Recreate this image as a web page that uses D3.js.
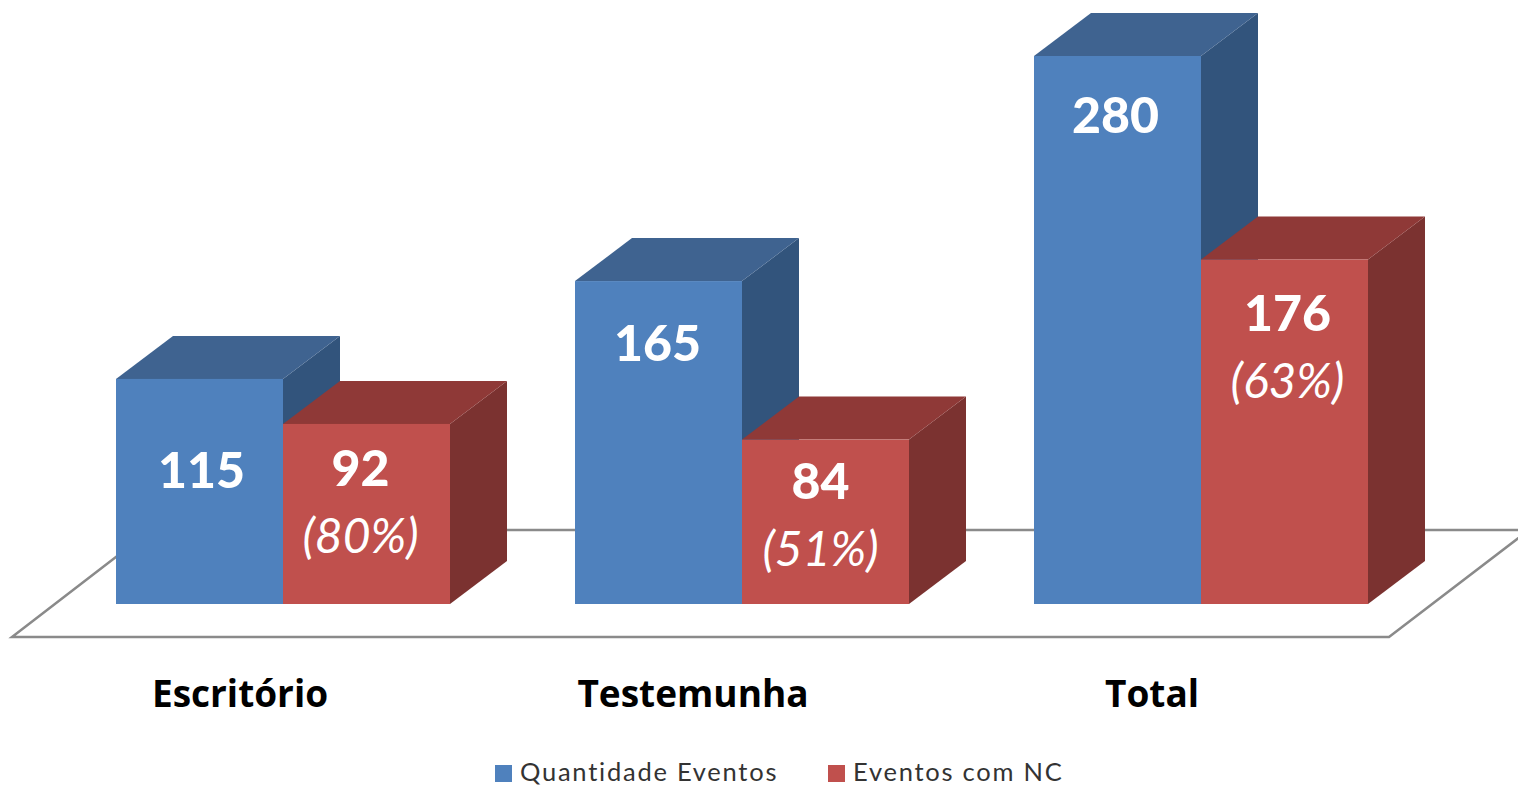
<!DOCTYPE html>
<html lang="pt">
<head>
    <meta charset="UTF-8">
    <title>Eventos</title>
    <script src="https://d3js.org/d3.v7.min.js"></script>
    <style>
    html, body { margin: 0; background: #fff; overflow: hidden; }
    svg { display: block; font-family: Lato, sans-serif; }
    .value { font-size: 50px; font-weight: 900; fill: #fff; text-anchor: middle; }
    .pct { font-size: 48px; font-style: italic; font-weight: 400; fill: #fff; text-anchor: middle; }
    .axis text { font-size: 37px; font-weight: 700; fill: #000; font-family: "Open Sans", sans-serif; }
    .legend text { font-size: 25.5px; letter-spacing: 1.75px; fill: #333; }
    .floor { fill: none; stroke: #8a8a8a; stroke-width: 2.5px; }
    </style>
</head>
<body>
<svg width="1518" height="786"></svg>
<script>
    const categories = ['Escritório', 'Testemunha', 'Total'];
    const seriesNames = ['Quantidade Eventos', 'Eventos com NC'];
    const quantidade = [115, 165, 280];
    const eventosNC = [92, 84, 176];
    const percentNC = ['(80%)', '(51%)', '(63%)'];

    // label placement: drop under the bar top, shift from the bar centre
    const labelDrops = [[109, 62], [80, 59], [77, 71]];
    const labelShifts = [[2, -6], [-1, -5], [-2, 3]];
    const categoryShifts = [-43, -49, -49];

    const colors = {
        front: ['#4f81bd', '#c0504d'],
        top: ['#3f6390', '#8f3937'],
        side: ['#32547c', '#7b3230']
    };

    // 3D offset of the back face
    const depthX = 57, depthY = 43;

    const svg = d3.select('svg');

    const xScale = d3.scaleBand()
        .domain(categories)
        .range([116, 1368])
        .paddingInner(125 / 459);

    const xSeries = d3.scaleBand()
        .domain([0, 1])
        .range([0, xScale.bandwidth()]);

    const yScale = d3.scaleLinear()
        .domain([0, 280])
        .range([604, 56]);

    // floor of the chart, drawn first so the bars cover it
    const floorFront = yScale(0) + 33, floorBack = yScale(0) - 74;
    svg.append('path')
        .attr('class', 'floor')
        .attr('d', `M12,${floorFront}L1389,${floorFront}L1529,${floorBack}L151,${floorBack}Z`);

    const rows = categories.map((c, i) => [
        { cat: c, s: 0, value: quantidade[i], drop: labelDrops[i][0], shift: labelShifts[i][0] },
        { cat: c, s: 1, value: eventosNC[i], drop: labelDrops[i][1], shift: labelShifts[i][1], pct: percentNC[i] }
    ]).flat();

    const bars = svg.selectAll('.bar')
        .data(rows)
        .enter()
        .append('g')
        .attr('class', 'bar');

    const x0 = d => xScale(d.cat) + xSeries(d.s);
    const x1 = d => x0(d) + xSeries.bandwidth();

    bars.append('path')
        .attr('fill', d => colors.side[d.s])
        .attr('d', d => `M${x1(d)},${yScale(d.value)}l${depthX},${-depthY}L${x1(d) + depthX},${yScale(0) - depthY}L${x1(d)},${yScale(0)}Z`);

    bars.append('path')
        .attr('fill', d => colors.top[d.s])
        .attr('d', d => `M${x0(d)},${yScale(d.value)}l${depthX},${-depthY}L${x1(d) + depthX},${yScale(d.value) - depthY}L${x1(d)},${yScale(d.value)}Z`);

    bars.append('rect')
        .attr('x', x0)
        .attr('y', d => yScale(d.value))
        .attr('width', xSeries.bandwidth())
        .attr('height', d => yScale(0) - yScale(d.value))
        .attr('fill', d => colors.front[d.s]);

    bars.append('text')
        .attr('class', 'value')
        .attr('x', d => x0(d) + xSeries.bandwidth() / 2 + d.shift)
        .attr('y', d => yScale(d.value) + d.drop)
        .text(d => d.value);

    bars.filter(d => d.pct)
        .append('text')
        .attr('class', 'pct')
        .attr('x', d => x0(d) + xSeries.bandwidth() / 2 + d.shift)
        .attr('y', d => yScale(d.value) + d.drop + 67)
        .text(d => d.pct);

    // category labels sit left of the band centre because of the perspective
    const xAxis = d3.axisBottom(xScale).tickSize(0).tickPadding(0);
    svg.append('g')
        .attr('class', 'axis')
        .attr('transform', 'translate(0,681)')
        .call(xAxis)
        .call(g => g.select('.domain').remove())
        .selectAll('.tick text')
        .attr('x', (d, i) => categoryShifts[i]);

    const legend = svg.append('g').attr('class', 'legend');
    const legendX = [495, 828];

    legend.selectAll('rect')
        .data(seriesNames)
        .enter()
        .append('rect')
        .attr('x', (d, i) => legendX[i])
        .attr('y', 765)
        .attr('width', 17)
        .attr('height', 17)
        .attr('fill', (d, i) => colors.front[i]);

    legend.selectAll('text')
        .data(seriesNames)
        .enter()
        .append('text')
        .attr('x', (d, i) => legendX[i] + 25)
        .attr('y', 781)
        .text(d => d);
</script>
</body>
</html>
